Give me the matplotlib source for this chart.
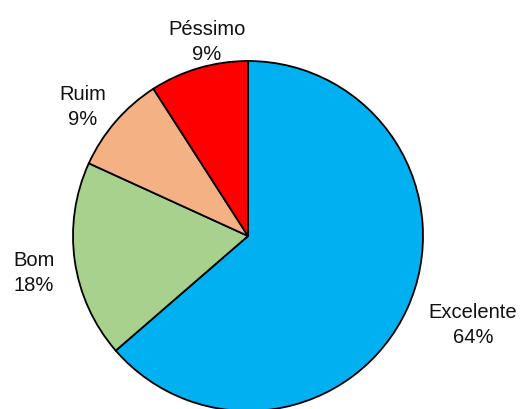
import matplotlib
matplotlib.use("Agg")
import matplotlib.pyplot as plt
import numpy as np

categorias = ['Excelente', 'Bom', 'Ruim', 'Péssimo']
valores = [7, 2, 1, 1]
percentuais = ['64%', '18%', '9%', '9%']
cores = ['#00B0F0', '#A9D18E', '#F4B183', '#FF0000']
# afastamento dos rotulos (raio, desvio de angulo em graus)
dist_rotulo = [1.38, 1.24, 1.2, 1.14]
desvio_ang = [3.1, 1.3, 2.7, -4.5]

plt.rcParams['font.family'] = ['Liberation Sans', 'DejaVu Sans']

fig = plt.figure(figsize=(5.2, 4.1), dpi=100, facecolor='white')
ax = fig.add_axes([73/520, -2/410, 350/520, 350/410])

wedges, _ = ax.pie(valores, colors=cores, startangle=90, counterclock=False,
                   radius=1, wedgeprops=dict(edgecolor='black', linewidth=1.3))
for w in wedges:
    w.set_clip_on(False)

for w, cat, pct, d, da in zip(wedges, categorias, percentuais, dist_rotulo, desvio_ang):
    ang = np.deg2rad((w.theta1 + w.theta2) / 2 + da)
    ax.text(d*np.cos(ang), d*np.sin(ang), cat + '\n' + pct, ha='center', va='center',
            fontsize=14.5, color='#111111', linespacing=1.4)

ax.set_xlim(-1, 1)
ax.set_ylim(-1, 1)
ax.set_aspect('equal')
ax.axis('off')

fig.savefig('out.png', dpi=100, facecolor='white')
